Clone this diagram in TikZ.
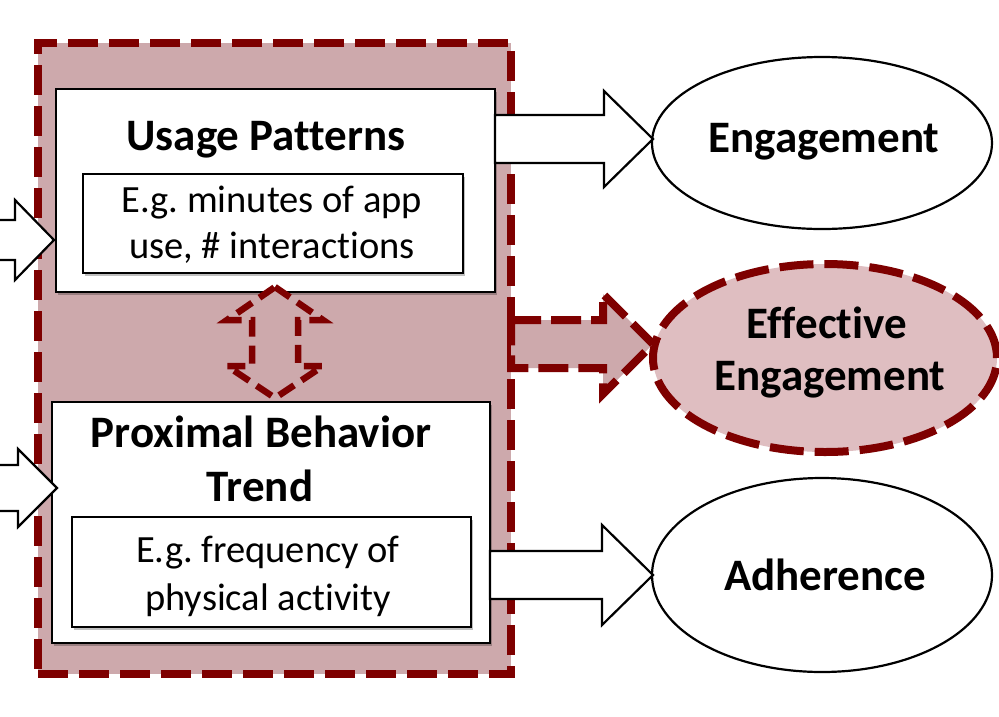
\documentclass[tikz,border=0pt]{standalone}
\usepackage{fontspec}
\setmainfont{Carlito}[Ligatures={TeX,NoCommon}]
\usetikzlibrary{shapes.geometric,shadows,calc}
\definecolor{dred}{HTML}{7E0000}
\definecolor{boxpink}{HTML}{CDA9AC}
\definecolor{ellpink}{HTML}{DFBEC1}
\newcommand\blockarrow[6]{%
  \path[#1] let \p1=(#2), \p2=(#3) in
    (\x1,\y2+#4) -- (\x2-#6,\y2+#4) -- (\x2-#6,\y2+#5) -- (\x2,\y2) --
    (\x2-#6,\y2-#5) -- (\x2-#6,\y2-#4) -- (\x1,\y2-#4) -- cycle;}
\frenchspacing
\begin{document}
\begin{tikzpicture}[x=1pt,y=-1pt,
  every node/.style={inner sep=0pt,outer sep=0pt},
  shad/.style={drop shadow={shadow xshift=2pt,shadow yshift=-3pt,opacity=0.25,fill=black}},
  outerbox/.style={rectangle,fill=boxpink,draw=dred,line width=8pt,dash pattern=on 30pt off 11pt},
  wbox/.style={rectangle,fill=white,draw=black,line width=2.5pt,shad},
  ibox/.style={rectangle,fill=white,draw=black,line width=2.2pt,shad},
  outc/.style={ellipse,fill=white,draw=black,line width=2.2pt},
  effc/.style={ellipse,fill=ellpink,draw=dred,line width=8pt,dash pattern=on 34pt off 11pt},
  warrow/.style={fill=white,draw=black,line width=2.2pt,line join=miter},
  darrow/.style={fill=boxpink,draw=dred,line width=8pt,dash pattern=on 30pt off 10pt},
  ttl/.style={font=\fontsize{45}{52}\selectfont\bfseries,anchor=base},
  sub/.style={font=\fontsize{38.5}{45}\selectfont,anchor=base}]
\useasboundingbox (0,0) rectangle (999,716);
\clip (0,0) rectangle (999,716);
\fill[white] (0,0) rectangle (999,716);
% container
\node[outerbox,minimum width=473pt,minimum height=631pt] (outer) at (274.5,358.5) {};
% boxes
\node[wbox,minimum width=439pt,minimum height=203pt] (up) at (275.5,190.5) {};
\node[ibox,minimum width=380pt,minimum height=99pt] (upin) at (273,223.5) {};
\node[wbox,minimum width=438pt,minimum height=241pt] (pb) at (271,522.5) {};
\node[ibox,minimum width=399pt,minimum height=110pt] (pbin) at (271.5,572) {};
% texts
\node[ttl] (t1) at (266,150) {Usage Patterns};
\node[sub] (t1a) at (272,212) {E.g. minutes of app};
\node[sub] (t1b) at (272,258) {use, \# interactions};
\node[ttl] (t2) at (261,447) {Proximal Behavior};
\node[ttl] (t2b) at (260,501) {Trend};
\node[sub] (t2c) at (268,562) {E.g. frequency of};
\node[sub] (t2d) at (268,610) {physical activity};
% outcomes
\node[outc,minimum width=340pt,minimum height=172pt] (eng) at (822,143) {};
\node[effc,minimum width=344pt,minimum height=188pt] (eff) at (825,358) {};
\node[outc,minimum width=340pt,minimum height=194pt] (adh) at (822,575) {};
\node[ttl] (te) at (824,152) {Engagement};
\node[ttl] (tf1) at (827,338) {Effective};
\node[ttl] (tf2) at (830,390) {Engagement};
\node[ttl] (ta) at (825,590) {Adherence};
% coordinates for arrows
\coordinate (in1tail) at (-10,240);
\coordinate (in1tip) at (54,240);
\coordinate (in2tail) at (-10,488);
\coordinate (in2tip) at (57,488);
\coordinate (engtip) at (653,139);
\coordinate (efftip) at (653,344);
\coordinate (adhtip) at (653,575);
% block arrows
\blockarrow{warrow}{up.east}{engtip}{24pt}{48pt}{49pt}
\blockarrow{warrow}{pb.east}{adhtip}{24pt}{50pt}{51pt}
\blockarrow{warrow}{in1tail}{in1tip}{20pt}{40pt}{39pt}
\blockarrow{warrow}{in2tail}{in2tip}{23pt}{39pt}{39pt}
\blockarrow{darrow}{outer.east}{efftip}{24pt}{50pt}{50pt}
% double arrow between boxes
\path[darrow,line width=6.5pt,dash pattern=on 18pt off 9pt]
  (275,287) -- (323,320) -- (298,320) -- (298,366) -- (323,366) -- (275,398)
  -- (227,366) -- (252,366) -- (252,320) -- (227,320) -- cycle;
\end{tikzpicture}
\end{document}
